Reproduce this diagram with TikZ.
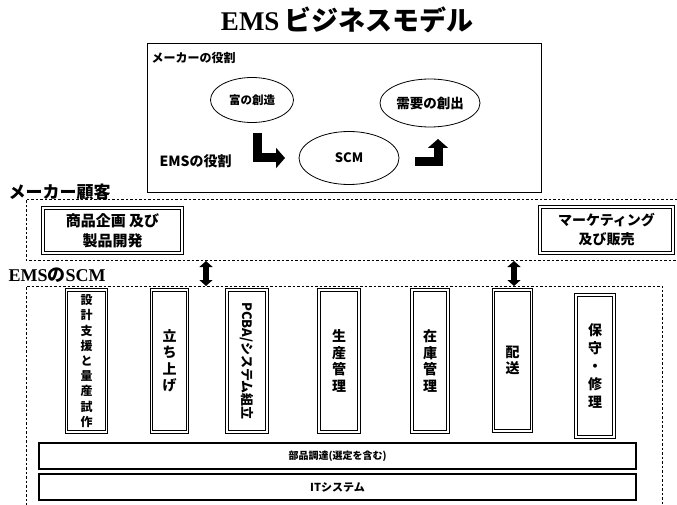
\documentclass[tikz,border=0pt]{standalone}
\usepackage{fontspec}
\setmainfont{Liberation Serif}
\newfontfamily\jp{Noto Sans CJK JP}
\usetikzlibrary{shapes.geometric,arrows.meta}
\tikzset{
  fs/.style={font=\fontsize{#1}{#1}\selectfont\bfseries},
  jpfs/.style={font=\fontsize{#1}{#1}\selectfont\jp\bfseries},
  oval/.style={ellipse, draw, line width=0.8pt, inner sep=0pt},
  colbox/.style={draw, line width=1pt, double, double distance=1.6pt, inner sep=0pt, align=center, minimum width=36pt, minimum height=142pt},
  bigbox/.style={draw, line width=1pt, double, double distance=1.6pt, inner sep=0pt, align=center},
  bar/.style={draw, line width=1.1pt, inner sep=0pt, minimum width=597pt, minimum height=26pt},
  dashbox/.style={line width=0.8pt, dash pattern=on 2.5pt off 2pt},
  blockarrow/.style={line width=9pt, line join=miter, -{Triangle[length=9pt,width=20pt]}},
  dblarrow/.style={line width=6pt, {Triangle[length=6pt,width=13pt]}-{Triangle[length=6pt,width=13pt]}}
}
\begin{document}
\begin{tikzpicture}[x=1pt,y=-1pt]
\useasboundingbox (0,0) rectangle (677,505);

% title
\node[fs=27] (title) at (347,20) {EMS\,{\jp ビジネスモデル}};

% top box
\node[draw, line width=1.1pt, minimum width=394pt, minimum height=149pt, anchor=north west, inner sep=0pt] (topbox) at (147,43) {};
\node[jpfs=12, anchor=west] (makerrole) at (148,58) {メーカーの役割};
\node[jpfs=14, anchor=west] (emsrole) at (156,161) {EMSの役割};
\node[oval, minimum width=83pt, minimum height=45pt, font=\jp\bfseries\fontsize{11.5}{14}\selectfont] (wealth) at (252,100) {富の創造};
\node[oval, minimum width=100pt, minimum height=48pt, font=\jp\bfseries\fontsize{13.5}{16}\selectfont] (demand) at (430,103) {需要の創出};
\node[oval, minimum width=100pt, minimum height=53pt, font=\jp\bfseries\fontsize{13}{16}\selectfont] (scm) at (349,158) {SCM};

\coordinate (a1s) at (257,133);
\coordinate (a1e) at (285,158);
\draw[blockarrow] (a1s) |- (a1e);
\coordinate (a2s) at (415,162);
\coordinate (a2e) at (438,139);
\draw[blockarrow] (a2s) -| (a2e);

% maker-customer region
\node[jpfs=17, anchor=west] (makercust) at (5,192) {メーカー顧客};
\coordinate (d1tl) at (26,199);
\coordinate (d1tr) at (677,199);
\coordinate (d1bl) at (26,260);
\coordinate (d1br) at (677,260);
\draw[dashbox] (d1tr) -- (d1tl) -- (d1bl) -- (d1br);

\node[bigbox, minimum width=139pt, minimum height=45pt, font=\jp\bfseries\fontsize{15}{20}\selectfont] (plan) at (112.5,230.5) {商品企画 及び\\製品開発};
\node[bigbox, minimum width=133pt, minimum height=46pt, font=\jp\bfseries\fontsize{14}{19}\selectfont] (mkt) at (606.5,230) {マーケティング\\及び販売};

% EMS SCM region
\node[fs=18, anchor=west] (emsscm) at (5,275) {EMS{\jp の}SCM};
\coordinate (d2tl) at (26,286);
\coordinate (d2tr) at (662,286);
\coordinate (d2bl) at (26,510);
\coordinate (d2br) at (662,510);
\draw[dashbox] (d2bl) -- (d2tl) -- (d2tr) -- (d2br);

\coordinate (u1) at (206,261);
\coordinate (l1) at (206,286);
\draw[dblarrow] (u1) -- (l1);
\coordinate (u2) at (514,261);
\coordinate (l2) at (514,286);
\draw[dblarrow] (u2) -- (l2);

% columns
\node[colbox, minimum width=40pt, font=\jp\bfseries\fontsize{12}{15.2}\selectfont] (c1) at (86.5,361) {設\\計\\支\\援\\と\\量\\産\\試\\作};
\node[colbox, font=\jp\bfseries\fontsize{14}{16.5}\selectfont] (c2) at (169.5,361) {立\\ち\\上\\げ};
\node[colbox, minimum width=40pt] (c3) at (247,361) {};
\node[rotate=-90, font=\jp\bfseries\fontsize{13}{15}\selectfont] (c3t) at (c3.center) {PCBA/システム組立};
\node[colbox, minimum width=40pt, font=\jp\bfseries\fontsize{14}{16.5}\selectfont] (c4) at (339,361) {生\\産\\管\\理};
\node[colbox, font=\jp\bfseries\fontsize{14}{16.5}\selectfont] (c5) at (430,361) {在\\庫\\管\\理};
\node[colbox, minimum width=38pt, minimum height=141pt, font=\jp\bfseries\fontsize{14}{16.5}\selectfont] (c6) at (512.5,360.5) {配\\送};
\node[colbox, minimum width=38pt, font=\jp\bfseries\fontsize{14}{18}\selectfont] (c7) at (595,366) {保\\守\\・\\修\\理};

% bars
\node[bar, font=\jp\bfseries\fontsize{10}{12}\selectfont] (procure) at (337.5,456) {部品調達(選定を含む)};
\node[bar, font=\jp\bfseries\fontsize{11}{13}\selectfont] (it) at (337.5,487) {ITシステム};
\end{tikzpicture}
\end{document}
